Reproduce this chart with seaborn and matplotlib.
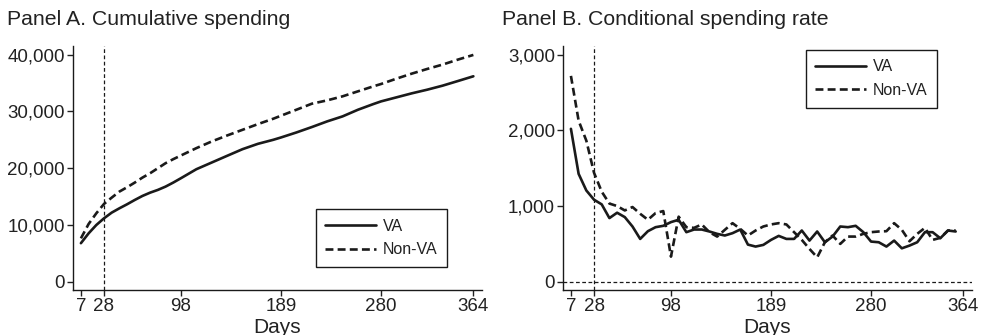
import numpy as np
import pandas as pd
import matplotlib
matplotlib.use("Agg")
import matplotlib.pyplot as plt
import seaborn as sns

# ---------------- data ----------------
days_a = [7, 14, 21, 28, 35, 42, 49, 56, 63, 70, 77, 84, 91, 98, 112, 126, 140, 154,
          168, 182, 189, 203, 217, 231, 245, 259, 273, 280, 294, 308, 322, 336, 350, 364]
cum_va = [6800, 8530, 10000, 11180, 12180, 12940, 13650, 14410, 15120, 15700, 16180,
          16760, 17470, 18240, 19820, 21000, 22180, 23350, 24290, 25000, 25410, 26290,
          27240, 28240, 29120, 30290, 31290, 31760, 32470, 33180, 33820, 34530, 35350, 36180]
cum_nonva = [7650, 10180, 12060, 13710, 14820, 15880, 16650, 17470, 18350, 19120, 20000,
             20880, 21590, 22240, 23530, 24710, 25760, 26760, 27760, 28710, 29240, 30290,
             31350, 31940, 32650, 33530, 34410, 34820, 35760, 36650, 37470, 38240, 39120, 39940]

days_b = list(range(7, 358, 7))
rate_va = [2020, 1425, 1206, 1084, 1022, 841, 912, 854, 730, 566, 668, 721, 739, 788,
           819, 655, 690, 690, 664, 633, 611, 642, 690, 491, 465, 487, 553, 606, 566,
           566, 677, 544, 664, 522, 597, 730, 721, 739, 655, 531, 522, 465, 544, 442,
           478, 522, 655, 655, 575, 677, 664]
rate_nonva = [2719, 2127, 1864, 1440, 1190, 1033, 1000, 942, 987, 898, 819, 907, 934,
              332, 860, 721, 712, 757, 655, 597, 686, 774, 699, 611, 677, 730, 757, 774,
              757, 655, 553, 434, 323, 522, 611, 500, 597, 597, 633, 655, 664, 668, 774,
              686, 535, 633, 712, 553, 580, 677, 677]

xticks = [7, 28, 98, 189, 280, 364]
yticks_a = [0, 10000, 20000, 30000, 40000]
yticks_b = [0, 1000, 2000, 3000]
groups = ["VA", "Non-VA"]
titles = ["Panel A. Cumulative spending", "Panel B. Conditional spending rate"]

df_a = pd.DataFrame({"Days": days_a * 2, "value": cum_va + cum_nonva,
                     "group": [groups[0]] * len(days_a) + [groups[1]] * len(days_a)})
df_b = pd.DataFrame({"Days": days_b * 2, "value": rate_va + rate_nonva,
                     "group": [groups[0]] * len(days_b) + [groups[1]] * len(days_b)})

# ---------------- style ----------------
sns.set_theme(style="ticks")
plt.rcParams["font.family"] = ["Liberation Sans", "DejaVu Sans"]
plt.rcParams["text.color"] = "#222222"
plt.rcParams["xtick.color"] = "#222222"
plt.rcParams["ytick.color"] = "#222222"
plt.rcParams["axes.labelcolor"] = "#222222"

fig = plt.figure(figsize=(9.82, 3.35), dpi=100)
ax_a = fig.add_axes([0.074, 0.134, 0.417, 0.729])
ax_b = fig.add_axes([0.573, 0.134, 0.417, 0.729])

dashes = {"VA": "", "Non-VA": (3.0, 1.6)}
palette = {"VA": "#1a1a1a", "Non-VA": "#1a1a1a"}

for ax, df, yt, ylim, title, tx, leg_anchor in [
    (ax_a, df_a, yticks_a, (-1460, 41530), titles[0], -0.160, (0.914, 0.332)),
    (ax_b, df_b, yticks_b, (-110, 3115), titles[1], -0.148, (0.914, 0.985)),
]:
    sns.lineplot(data=df, x="Days", y="value", hue="group", style="group",
                 dashes=dashes, palette=palette, linewidth=1.9, ax=ax,
                 legend=True)
    ax.axvline(28, color="#1a1a1a", linestyle=(0, (3, 2)), linewidth=0.9, zorder=0)
    ax.set_xlim(-0.5, 372)
    ax.set_ylim(*ylim)
    ax.set_xticks(xticks)
    ax.set_xticklabels([str(t) for t in xticks], fontsize=13.5)
    ax.set_yticks(yt)
    ax.set_yticklabels([f"{t:,}" for t in yt], fontsize=13.5)
    ax.set_xlabel("Days", fontsize=15, labelpad=2)
    ax.set_ylabel("")
    for s in ["top", "right"]:
        ax.spines[s].set_visible(False)
    for s in ["left", "bottom"]:
        ax.spines[s].set_color("#1a1a1a")
        ax.spines[s].set_linewidth(1.0)
    ax.tick_params(axis="both", direction="out", length=4, width=1.0, pad=1.5)
    ax.text(tx, 1.107, title, transform=ax.transAxes, fontsize=15.3,
            ha="left", va="center")
    h, l = ax.get_legend_handles_labels()
    leg = ax.legend(h, l, loc="upper right", bbox_to_anchor=leg_anchor,
                    fontsize=11.5, frameon=True, fancybox=False, framealpha=1,
                    edgecolor="#1a1a1a", handlelength=3.2, handletextpad=0.4,
                    borderpad=0.6, labelspacing=0.55, borderaxespad=0)
    leg.get_frame().set_linewidth(1.0)

ax_b.axhline(0, color="#1a1a1a", linestyle=(0, (3, 2)), linewidth=0.9, zorder=0)

fig.savefig("out.png", dpi=100, facecolor="white")
